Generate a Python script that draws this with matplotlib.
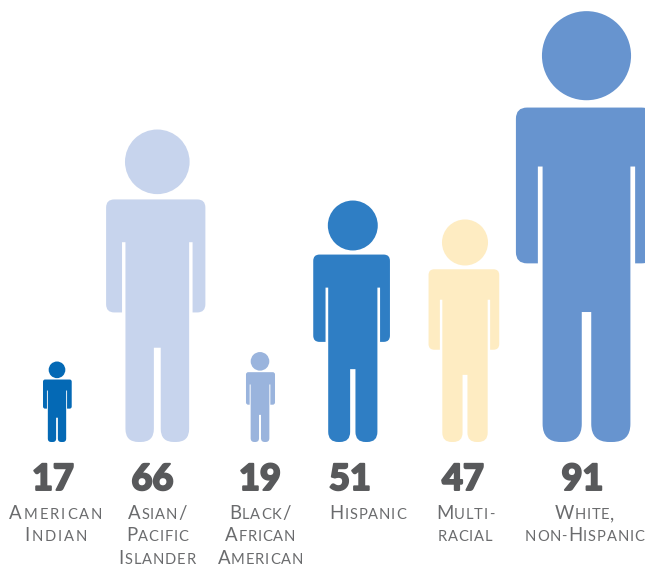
import matplotlib
matplotlib.use("Agg")
import matplotlib.pyplot as plt
import matplotlib.patheffects as pe
from matplotlib.font_manager import FontProperties
from matplotlib.path import Path
from matplotlib.patches import PathPatch, Circle
from matplotlib.text import Text
from matplotlib.textpath import text_to_path
from matplotlib.transforms import Bbox, IdentityTransform

categories = ["American Indian", "Asian/ Pacific Islander", "Black/ African American",
              "Hispanic", "Multi-racial", "White, non-Hispanic"]
values = [17, 66, 19, 51, 47, 91]
label_lines = [["American", "Indian"], ["Asian/", "Pacific", "Islander"],
               ["Black/", "African", "American"], ["Hispanic"],
               ["Multi-", "racial"], ["White,", "non-Hispanic"]]
colors = ["#0469B5", "#C7D4ED", "#9AB4DD", "#2F7EC4", "#FEECC2", "#6794CF"]

centers = [57, 157.3, 260, 352.8, 465, 586.5]
number_x = [53, 152.5, 260, 350, 463, 582.5]
label_x = [55.5, 157, 260, 367.5, 465, 584.5]
label_track = [2.0, 0.85, 0.85, 0.85, 0.85, 0.85]
arm_left = [0.174, 0.164, 0.156, 0.164, 0.164, 0.164]
arm_right = [0.183, 0.154, 0.167, 0.154, 0.154, 0.154]
torso_half = [0.114, 0.102, 0.104, 0.102, 0.102, 0.102]
PX_PER_UNIT = 4.73
BASE_Y = 442

fig = plt.figure(figsize=(6.45, 5.65), dpi=100)
ax = fig.add_axes([0, 0, 1, 1])
ax.set_xlim(0, 645)
ax.set_ylim(565, 0)
ax.axis("off")


class SmallCaps(Text):
    """A text line that keeps its real string but is painted in tracked small caps."""
    BIG, SMALL = 13.4, 10.6
    track = 1.0

    def _glyphs(self):
        out, pen = [], 0.0
        for ch in self.get_text():
            size = self.BIG if (ch.isupper() or ch in "/,") else self.SMALL
            fp = FontProperties(family=self.get_fontfamily(), weight=self.get_fontweight(), size=size)
            w = text_to_path.get_text_width_height_descent(ch.upper(), fp, False)[0]
            w *= 100 / 72
            out.append((ch.upper(), fp, pen))
            pen += w + self.track
        return out, pen - self.track

    def draw(self, renderer):
        glyphs, width = self._glyphs()
        x, y = self.get_transform().transform(self.get_position())
        x0 = x - width / 2
        for ch, fp, off in glyphs:
            t = Text(x0 + off, y, ch, fontproperties=fp, color=self.get_color(),
                     ha="left", va="baseline", transform=IdentityTransform())
            t.set_figure(self.get_figure())
            t.draw(renderer)

    def get_window_extent(self, renderer=None, dpi=None):
        _, width = self._glyphs()
        x, y = self.get_transform().transform(self.get_position())
        return Bbox.from_extents(x - width / 2, y, x + width / 2, y + 13.5)


def rounded_polygon(pts):
    """pts: (x, y, radius). Closed outline with quadratic corners."""
    verts, codes = [], []
    n = len(pts)
    for i, (x, y, r) in enumerate(pts):
        px, py, _ = pts[i - 1]
        nx, ny, _ = pts[(i + 1) % n]
        if r > 0:
            d0 = ((px - x) ** 2 + (py - y) ** 2) ** 0.5
            d1 = ((nx - x) ** 2 + (ny - y) ** 2) ** 0.5
            a = (x + (px - x) * r / d0, y + (py - y) * r / d0)
            b = (x + (nx - x) * r / d1, y + (ny - y) * r / d1)
            verts += [a, (x, y), b]
            codes += [Path.LINETO, Path.CURVE3, Path.CURVE3]
        else:
            verts.append((x, y))
            codes.append(Path.LINETO)
    codes[0] = Path.MOVETO
    verts.append(verts[0])
    codes.append(Path.CLOSEPOLY)
    return verts, codes


def draw_person(cx, h, color, out_l, out_r, torso):
    # proportions of the figure as fractions of total height, measured from the top
    top = BASE_Y - h
    X = lambda f: cx + f * h
    Y = lambda f: top + f * h
    shoulder, arm_gap, arm_end, crotch = 0.223, 0.360, 0.585, 0.698
    inner, gap = torso + 0.011, 0.011
    rs, rf = 0.026 * h, 0.042 * h
    pts = [
        (X(out_r), Y(shoulder), rs), (X(out_r), Y(arm_end), rs),
        (X(inner), Y(arm_end), 0), (X(inner), Y(arm_gap), 0),
        (X(torso), Y(arm_gap), 0), (X(torso), Y(1), rf),
        (X(gap), Y(1), rf), (X(gap), Y(crotch), 0),
        (X(-gap), Y(crotch), 0), (X(-gap), Y(1), rf),
        (X(-torso), Y(1), rf), (X(-torso), Y(arm_gap), 0),
        (X(-inner), Y(arm_gap), 0), (X(-inner), Y(arm_end), 0),
        (X(-out_l), Y(arm_end), rs), (X(-out_l), Y(shoulder), rs),
    ]
    v, c = rounded_polygon(pts)
    ax.add_patch(PathPatch(Path(v, c), fc=color, ec="none"))
    ax.add_patch(Circle((cx, Y(0.1025)), 0.1035 * h, fc=color, ec="none"))


for val, cx, col, ol, or_, ts in zip(values, centers, colors, arm_left, arm_right, torso_half):
    draw_person(cx, val * PX_PER_UNIT, col, ol, or_, ts)

LINE_Y = [519, 541, 564]
for val, nx, lx, tr, lines in zip(values, number_x, label_x, label_track, label_lines):
    ax.text(nx, 490, str(val), ha="center", va="baseline", family="Lato",
            weight="black", fontsize=26, color="#58595B",
            path_effects=[pe.withStroke(linewidth=1.4, foreground="#58595B")])
    for y, line in zip(LINE_Y, lines):
        t = SmallCaps(lx, y, line, ha="center", va="baseline", family="Lato",
                      weight="regular", color="#6A6B6D", transform=ax.transData)
        t.track = tr
        ax.add_artist(t)

fig.savefig("out.png", dpi=100)
